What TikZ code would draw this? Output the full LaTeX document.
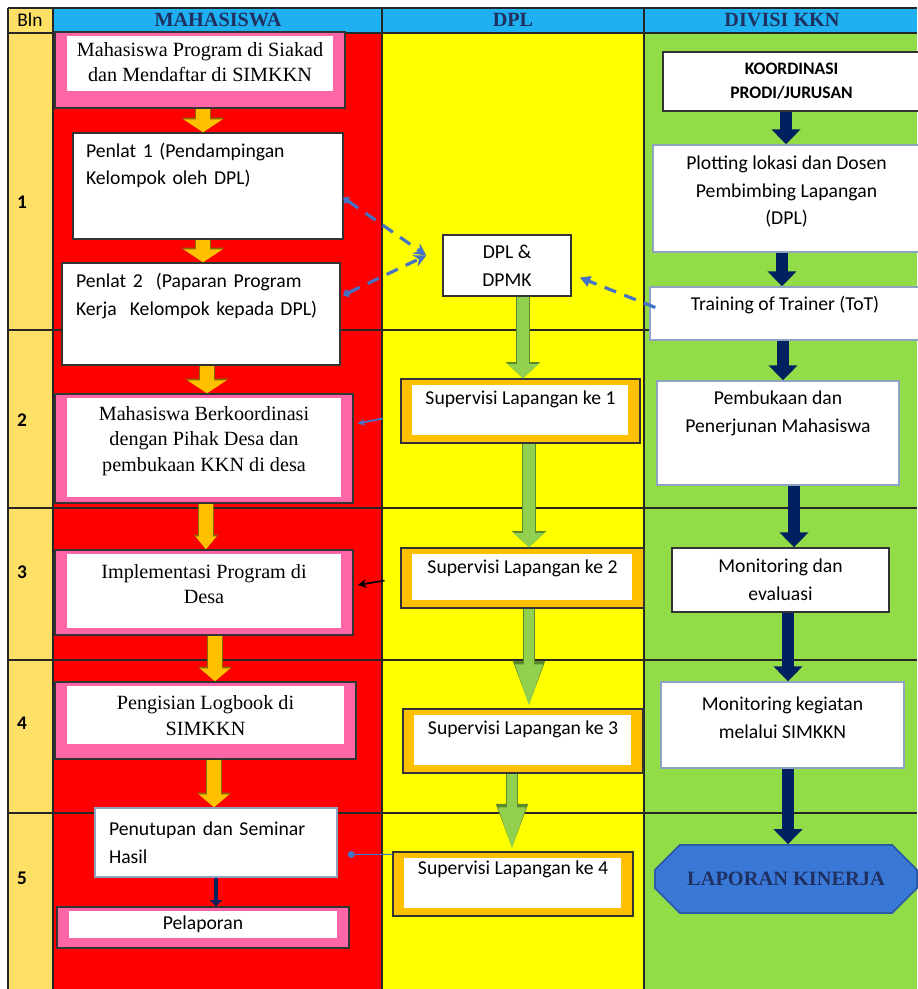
\documentclass[tikz,border=0pt]{standalone}
\usepackage{fontspec}
\setmainfont{Liberation Serif}
\newfontfamily\calfnt{Carlito}
\usetikzlibrary{arrows.meta,shapes.misc}

\definecolor{blncol}{HTML}{FFE066}
\definecolor{hdrblue}{HTML}{1EB0F0}
\definecolor{mhsred}{HTML}{FF0000}
\definecolor{dplyel}{HTML}{FFFF00}
\definecolor{divgrn}{HTML}{92DC48}
\definecolor{pinkc}{HTML}{FF66A8}
\definecolor{goldc}{HTML}{FFC000}
\definecolor{navyc}{HTML}{002060}
\definecolor{hdrtext}{HTML}{1F3060}
\definecolor{linkblue}{HTML}{4472C4}
\definecolor{lapblue}{HTML}{3A78D8}
\definecolor{lapedge}{HTML}{2A5AA8}
\definecolor{grnfill}{HTML}{92D050}
\definecolor{grnedge}{HTML}{5A8A2A}
\definecolor{ylwedge}{HTML}{8A6A00}
\definecolor{edgegrey}{HTML}{8EA3C2}

\newcommand\serifbody{\fontsize{11.5}{14.5}\selectfont}
\newcommand\calbody{\calfnt\fontsize{11.2}{15.8}\selectfont}

\begin{document}
\begin{tikzpicture}[x=0.02cm,y=-0.02cm,
  grid/.style={draw=black!85,line width=0.8pt},
  sz/.style 2 args={minimum width=#1*0.02cm,minimum height=#2*0.02cm},
  hdr/.style={font=\bfseries\fontsize{11.5}{13}\selectfont,text=hdrtext,inner sep=0pt},
  blnnum/.style={font=\calfnt\bfseries\fontsize{11}{13}\selectfont,inner sep=0pt},
  sertext/.style={font=\serifbody},
  caltext/.style={font=\calbody},
  box/.style={draw=black!80,line width=0.8pt,fill=white,inner sep=0pt,align=center},
  lbox/.style={box,draw=edgegrey},
  pinkbox/.style={box,fill=pinkc,path picture={\fill[white]
    ([shift={(12,4)}]path picture bounding box.north west) rectangle
    ([shift={(-12,-#1)}]path picture bounding box.south east);}},
  goldbox/.style={box,fill=goldc,path picture={\fill[white]
    ([shift={(11,6)}]path picture bounding box.north west) rectangle
    ([shift={(-12,-8)}]path picture bounding box.south east);}},
  lapbox/.style={chamfered rectangle,chamfered rectangle xsep=0.28cm,
    chamfered rectangle ysep=0.36cm,fill=lapblue,draw=lapedge,line width=1pt,
    inner sep=0pt,font=\bfseries\fontsize{11.6}{13}\selectfont,text=hdrtext},
  yarrow/.style 2 args={draw=goldc,line width=8.5pt,-{Triangle[length=7.4pt,width=#1]},
    preaction={draw=ylwedge,line width=9.6pt,-{Triangle[length=8.4pt,width=#2]}}},
  gshort/.style={draw=grnfill,line width=6.8pt,-{Triangle[length=8pt,width=17pt]},
    preaction={draw=grnedge,line width=8pt,-{Triangle[length=9.2pt,width=19pt]}}},
  glong/.style={draw=grnfill,line width=5.6pt,-{Triangle[length=25pt,width=14pt]},
    preaction={draw=grnedge,line width=6.8pt,-{Triangle[length=27pt,width=16pt]}}},
  navyarrow/.style={draw=navyc,line width=6.8pt,-{Triangle[length=8.5pt,width=16pt]}},
  navysmall/.style={draw=navyc,line width=2.8pt,-{Triangle[length=3.5pt,width=6.5pt]}},
  dlink/.style={draw=linkblue,line width=1.8pt,dash pattern=on 7pt off 5pt,
    {Circle[length=4pt]}-{Stealth[length=7pt,width=7pt]}},
  tlink/.style={draw=linkblue,line width=1.8pt,dash pattern=on 7pt off 5pt,
    -{Triangle[length=6pt,width=6pt]}},
  slink/.style={draw=linkblue,line width=1.1pt,-{Stealth[length=4pt,width=4pt]}},
  blink/.style={draw=black,line width=1pt,-{Stealth[length=5pt,width=5pt]}},
  thinlink/.style={draw=linkblue,line width=0.6pt,-{Circle[length=4pt]}}]

\useasboundingbox (0,0) rectangle (917,989);
% lanes
\fill[white] (0,0) rectangle (917,989);
\fill[blncol] (8,8) rectangle (53,989);
\fill[hdrblue] (53,8) rectangle (917,33);
\foreach \xa/\xb/\c in {53/382/mhsred,382/644/dplyel,644/917/divgrn}
  \fill[\c] (\xa,33) rectangle (\xb,989);
\foreach \y in {8,33,330,508,660,813}
  \draw[grid] (8,\y) -- (917,\y);
\foreach \x in {8,53,382,644}
  \draw[grid] (\x,8) -- (\x,989);

% header and month numbers
\node[inner sep=0pt,font=\calfnt\fontsize{11}{13}\selectfont] (h-bln) at (30,20) {Bln};
\node[hdr] (h-mhs) at (218,20) {MAHASISWA};
\node[hdr] (h-dpl) at (513,20) {DPL};
\node[hdr] (h-div) at (782,20) {DIVISI KKN};
\foreach \n/\y in {1/202,2/420,3/572,4/723,5/878}
  \node[blnnum] (bln-\n) at (22,\y) {\n};

% MAHASISWA
\node[pinkbox=17,sertext,sz={290}{76},text depth=9pt] (mh1) at (200,70)
  {Mahasiswa Program di Siakad\\dan Mendaftar di SIMKKN};
\node[box,caltext,align=left,text width=4.88cm,sz={270}{106},text depth=41pt] (mh2) at (208,186)
  {Penlat 1 (Pendampingan\\Kelompok oleh DPL)};
\node[box,caltext,align=left,text width=5cm,sz={278}{102},text depth=38pt] (mh3) at (201,314)
  {Penlat 2~~(Paparan Program\\Kerja~~Kelompok kepada DPL)};
\node[pinkbox=6,sertext,sz={298}{109},text depth=11pt] (mh4) at (204,448.5)
  {Mahasiswa Berkoordinasi\\dengan Pihak Desa dan\\pembukaan KKN di desa};
\node[pinkbox=7,sertext,sz={298}{85},text depth=9.6pt] (mh5) at (204,592.5)
  {Implementasi Program di\\Desa};
\node[pinkbox=15,sertext,sz={301}{77},text depth=5.7pt] (mh6) at (205.5,720.5)
  {Pengisian Logbook di\\SIMKKN};
\node[lbox,caltext,align=left,text width=4.28cm,sz={242}{69}] (mh7) at (216,842.5)
  {Penutupan dan Seminar\\Hasil};
\node[pinkbox=10,caltext,sz={292}{41},text depth=5.3pt] (mh8) at (203,927.5) {Pelaporan};

% DPL
\node[box,caltext,sz={128}{61}] (dpl) at (507,265.5) {DPL \&\\DPMK};
\node[goldbox,caltext,sz={239}{64},text depth=15pt] (sv1) at (520.5,411) {Supervisi Lapangan ke 1};
\node[goldbox,caltext,sz={243}{60},text depth=12.7pt] (sv2) at (522.5,578) {Supervisi Lapangan ke 2};
\node[goldbox,caltext,sz={240}{64},text depth=15pt] (sv3) at (523,741) {Supervisi Lapangan ke 3};
\node[goldbox,caltext,sz={240}{64},text depth=18.4pt] (sv4) at (513,884) {Supervisi Lapangan ke 4};

% DIVISI KKN
\node[box,font=\calfnt\bfseries\fontsize{10}{13.6}\selectfont,sz={257}{59}] (koor) at (791.5,81.5)
  {KOORDINASI\\PRODI/JURUSAN};
\node[lbox,caltext,sz={267}{107},text depth=9.3pt] (plot) at (786.5,198.5)
  {Plotting lokasi dan Dosen\\Pembimbing Lapangan\\(DPL)};
\node[lbox,caltext,sz={270}{53},text depth=12pt] (tot) at (785,313.5) {Training of Trainer (ToT)};
\node[lbox,caltext,sz={242}{104},text depth=24pt] (buka) at (778,433)
  {Pembukaan dan\\Penerjunan Mahasiswa};
\node[box,caltext,sz={217}{64}] (monev) at (780.5,580) {Monitoring dan\\evaluasi};
\node[lbox,caltext,sz={243}{86},text depth=8.6pt] (monsim) at (782.5,725)
  {Monitoring kegiatan\\melalui SIMKKN};
\node[lapbox,sz={262}{68}] (lap) at (786,879) {LAPORAN KINERJA};

% flow arrows
\foreach \a/\b/\x in {mh1/mh2/203,mh2/mh3/203,mh3/mh4/207}
  \draw[yarrow={22pt}{24.5pt}] (\a.south -| \x,0) -- (\b.north -| \x,0);
\draw[yarrow={11.5pt}{13.5pt}] (mh4.south -| 206,0) -- (mh5.north -| 206,0);
\foreach \a/\b/\x in {mh5/mh6/215,mh6/mh7/214}
  \draw[yarrow={17pt}{19pt}] (\a.south -| \x,0) -- (\b.north -| \x,0);
\draw[navysmall] (mh7.south -| 216,0) -- (mh8.north -| 216,0);
\draw[gshort] (dpl.south -| 523,0) -- (sv1.north -| 523,0);
\draw[gshort] (sv1.south -| 529,0) -- (sv2.north -| 529,0);
\draw[glong] (sv2.south -| 529,0) -- (sv3.north -| 529,0);
\draw[glong] (sv3.south -| 512,0) -- (sv4.north -| 512,0);
\foreach \a/\b/\x in {koor/plot/786,plot/tot/782,tot/buka/783,buka/monev/794,monev/monsim/788,monsim/lap/788}
  \draw[navyarrow] (\a.south -| \x,0) -- (\b.north -| \x,0);

% links between lanes
\coordinate (dmeet) at ([shift={(-16,-10)}]dpl.west);
\coordinate (tmeet) at ([shift={(8,12)}]dpl.east);
\draw[dlink] ([shift={(0,12)}]mh2.east) -- (dmeet);
\draw[dlink] ([shift={(3,-19)}]mh3.east) -- (dmeet);
\draw[tlink] ([shift={(6,-6)}]tot.west) -- (tmeet);
\draw[slink,shorten <=0.36cm] ([shift={(0,4)}]sv1.west) -- ([shift={(4,-25)}]mh4.east);
\draw[blink,shorten <=0.32cm] (sv2.west) -- ([shift={(4,-7.5)}]mh5.east);
\draw[thinlink] ([shift={(0,3)}]sv4.north west) -- ([shift={(10,12)}]mh7.east);
\end{tikzpicture}
\end{document}
